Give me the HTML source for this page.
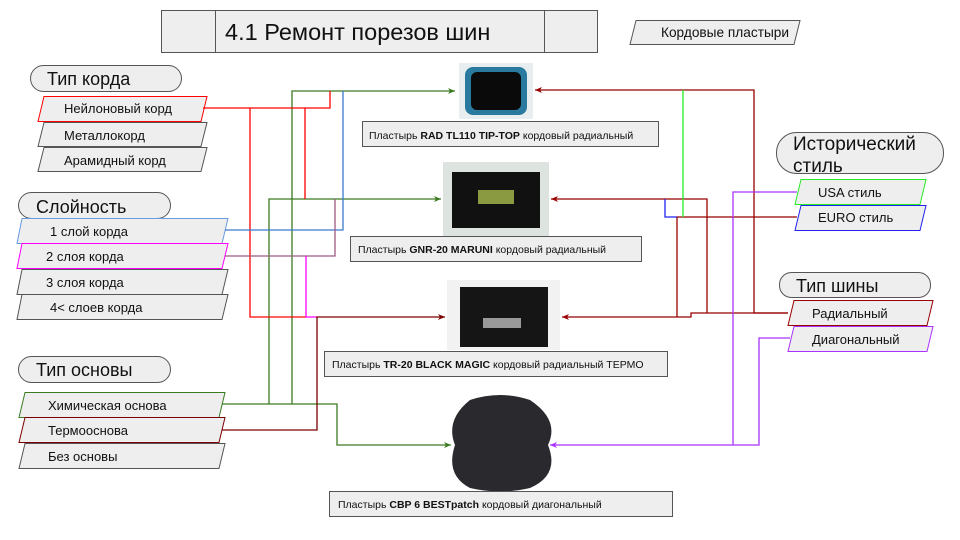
<!DOCTYPE html>
<html><head><meta charset="utf-8"><style>
html,body{margin:0;padding:0;background:#fff;}
svg{display:block;font-family:"Liberation Sans",sans-serif;}
</style></head><body>
<svg width="960" height="540" viewBox="0 0 960 540" xmlns="http://www.w3.org/2000/svg">
<defs>
<marker id="a" markerWidth="8" markerHeight="8" refX="7" refY="4" orient="auto" markerUnits="userSpaceOnUse"><path d="M0,1 L7,4 L0,7 L2,4z" fill="context-stroke"/></marker>
</defs>
<rect width="960" height="540" fill="#fff"/>
<!-- title -->
<rect x="161.5" y="10.5" width="436" height="42" fill="#eee" stroke="#555"/>
<line x1="215.5" y1="10" x2="215.5" y2="52" stroke="#555"/>
<line x1="544.5" y1="10" x2="544.5" y2="52" stroke="#555"/>
<text x="225" y="40" font-size="23.5" fill="#111">4.1 Ремонт порезов шин</text>
<polygon points="636,20.5 800,20.5 794,44.5 630,44.5" fill="#eee" stroke="#555"/>
<text x="661" y="37" font-size="14" fill="#111" textLength="128" lengthAdjust="spacingAndGlyphs">Кордовые пластыри</text>

<!-- images -->
<rect x="459" y="63" width="74" height="56" fill="#e8eef0"/>
<rect x="465" y="67" width="62" height="48" rx="8" fill="#2a7aa0"/>
<rect x="471" y="72" width="50" height="38" rx="6" fill="#0a0a0a"/>
<rect x="443" y="162" width="106" height="74" fill="#dde3df"/>
<rect x="452" y="172" width="88" height="56" fill="#111"/>
<rect x="478" y="190" width="36" height="14" fill="#8a9a40"/>
<rect x="447" y="280" width="113" height="70" fill="#f2f2f2"/>
<rect x="460" y="287" width="88" height="60" fill="#151515"/>
<rect x="483" y="318" width="38" height="10" fill="#999"/>
<path d="M470,400 Q500,390 530,400 Q560,420 548,445 Q560,475 530,488 Q500,495 470,488 Q445,475 455,445 Q445,420 470,400z" fill="#2a2a2e"/>

<!-- captions -->
<g fill="#eee" stroke="#555">
<rect x="362.5" y="121.5" width="296" height="25"/>
<rect x="350.5" y="236.5" width="291" height="25"/>
<rect x="324.5" y="351.5" width="343" height="25"/>
<rect x="329.5" y="491.5" width="343" height="25"/>
</g>
<g font-size="10.5" fill="#111">
<text x="369" y="139">Пластырь <tspan font-weight="bold">RAD TL110 TIP-TOP</tspan> кордовый радиальный</text>
<text x="358" y="253">Пластырь <tspan font-weight="bold">GNR-20 MARUNI</tspan> кордовый радиальный</text>
<text x="332" y="368">Пластырь <tspan font-weight="bold">TR-20 BLACK MAGIC</tspan> кордовый радиальный ТЕРМО</text>
<text x="338" y="508">Пластырь <tspan font-weight="bold">CBP 6 BESTpatch</tspan> кордовый диагональный</text>
</g>

<!-- pills -->
<g fill="#eee" stroke="#555">
<rect x="30.5" y="65.5" width="151" height="26" rx="13"/>
<rect x="18.5" y="192.5" width="152" height="26" rx="13"/>
<rect x="18.5" y="356.5" width="152" height="26" rx="13"/>
<rect x="776.5" y="132.5" width="167" height="41" rx="20"/>
<rect x="779.5" y="272.5" width="151" height="25" rx="12"/>
</g>
<g font-size="18" fill="#111">
<text x="47" y="85">Тип корда</text>
<text x="36" y="213">Слойность</text>
<text x="36" y="376">Тип основы</text>
<text x="793" y="150" font-size="19">Исторический</text>
<text x="793" y="172" font-size="19">стиль</text>
<text x="796" y="292">Тип шины</text>
</g>

<!-- parallelograms -->
<g fill="#eee" stroke-width="1">
<polygon points="44,96.5 207,96.5 201,121.5 38,121.5" stroke="#f00"/>
<polygon points="44,122.5 207,122.5 201,146.5 38,146.5" stroke="#555"/>
<polygon points="44,147.5 207,147.5 201,171.5 38,171.5" stroke="#555"/>
<polygon points="22,218.5 228,218.5 222,243.5 17,243.5" stroke="#6a9be0"/>
<polygon points="22,243.5 228,243.5 222,268.5 17,268.5" stroke="#f0f"/>
<polygon points="22,269.5 228,269.5 222,294.5 17,294.5" stroke="#555"/>
<polygon points="22,294.5 228,294.5 222,319.5 17,319.5" stroke="#555"/>
<polygon points="25,392.5 225,392.5 219,417.5 19,417.5" stroke="#3a7a20"/>
<polygon points="25,417.5 225,417.5 219,442.5 19,442.5" stroke="#7a0000"/>
<polygon points="25,443.5 225,443.5 219,468.5 19,468.5" stroke="#555"/>
<polygon points="801,179.5 926,179.5 920,204.5 795,204.5" stroke="#2e2"/>
<polygon points="801,205.5 926,205.5 920,230.5 795,230.5" stroke="#22e"/>
<polygon points="794,300.5 933,300.5 927,325.5 788,325.5" stroke="#900"/>
<polygon points="794,326.5 933,326.5 927,351.5 788,351.5" stroke="#a3f"/>
</g>
<g font-size="13" fill="#111">
<text x="64" y="113">Нейлоновый корд</text>
<text x="64" y="140">Металлокорд</text>
<text x="64" y="165">Арамидный корд</text>
<text x="50" y="236">1 слой корда</text>
<text x="46" y="261">2 слоя корда</text>
<text x="46" y="287">3 слоя корда</text>
<text x="50" y="312">4&lt; слоев корда</text>
<text x="48" y="410">Химическая основа</text>
<text x="48" y="435">Термооснова</text>
<text x="48" y="461">Без основы</text>
<text x="818" y="197">USA стиль</text>
<text x="818" y="222">EURO стиль</text>
<text x="812" y="318">Радиальный</text>
<text x="812" y="344">Диагональный</text>
</g>

<!-- connectors left -->
<g fill="none" stroke-width="1.3">
<polyline points="292,404 292,91 455,91" stroke="#3a7a20" marker-end="url(#a)"/>
<polyline points="269,404 269,199 441,199" stroke="#3a7a20" marker-end="url(#a)"/>
<polyline points="222,404 337,404 337,445 451,445" stroke="#3a7a20" marker-end="url(#a)"/>
<polyline points="203,108 330,108 330,91" stroke="#f00"/>
<polyline points="250,108 250,317 306,317" stroke="#f00"/>
<polyline points="305,108 305,199" stroke="#f00"/>
<polyline points="225,230 343,230 343,91" stroke="#3a7ad0"/>
<polyline points="225,256 335,256 335,199" stroke="#a05a80"/>
<polyline points="306,256 306,317 317,317" stroke="#f0f"/>
<polyline points="222,430 317,430 317,317 445,317" stroke="#7a0000" marker-end="url(#a)"/>
</g>
<!-- connectors right -->
<g fill="none" stroke-width="1.3">
<polyline points="788,313 754,313 754,90 535,90" stroke="#900" marker-end="url(#a)"/>
<polyline points="707,313 707,199 551,199" stroke="#900" marker-end="url(#a)"/>
<polyline points="788,313 691,313 691,317 562,317" stroke="#900" marker-end="url(#a)"/>
<polyline points="797,217 677,217 677,317" stroke="#900"/>
<polyline points="683,90 683,217" stroke="#2e2"/>
<polyline points="665,199 665,217 677,217" stroke="#22e"/>
<polyline points="797,192 733,192 733,445" stroke="#a3f"/>
<polyline points="790,338 759,338 759,445 550,445" stroke="#a3f" marker-end="url(#a)"/>
</g>
</svg>
</body></html>
